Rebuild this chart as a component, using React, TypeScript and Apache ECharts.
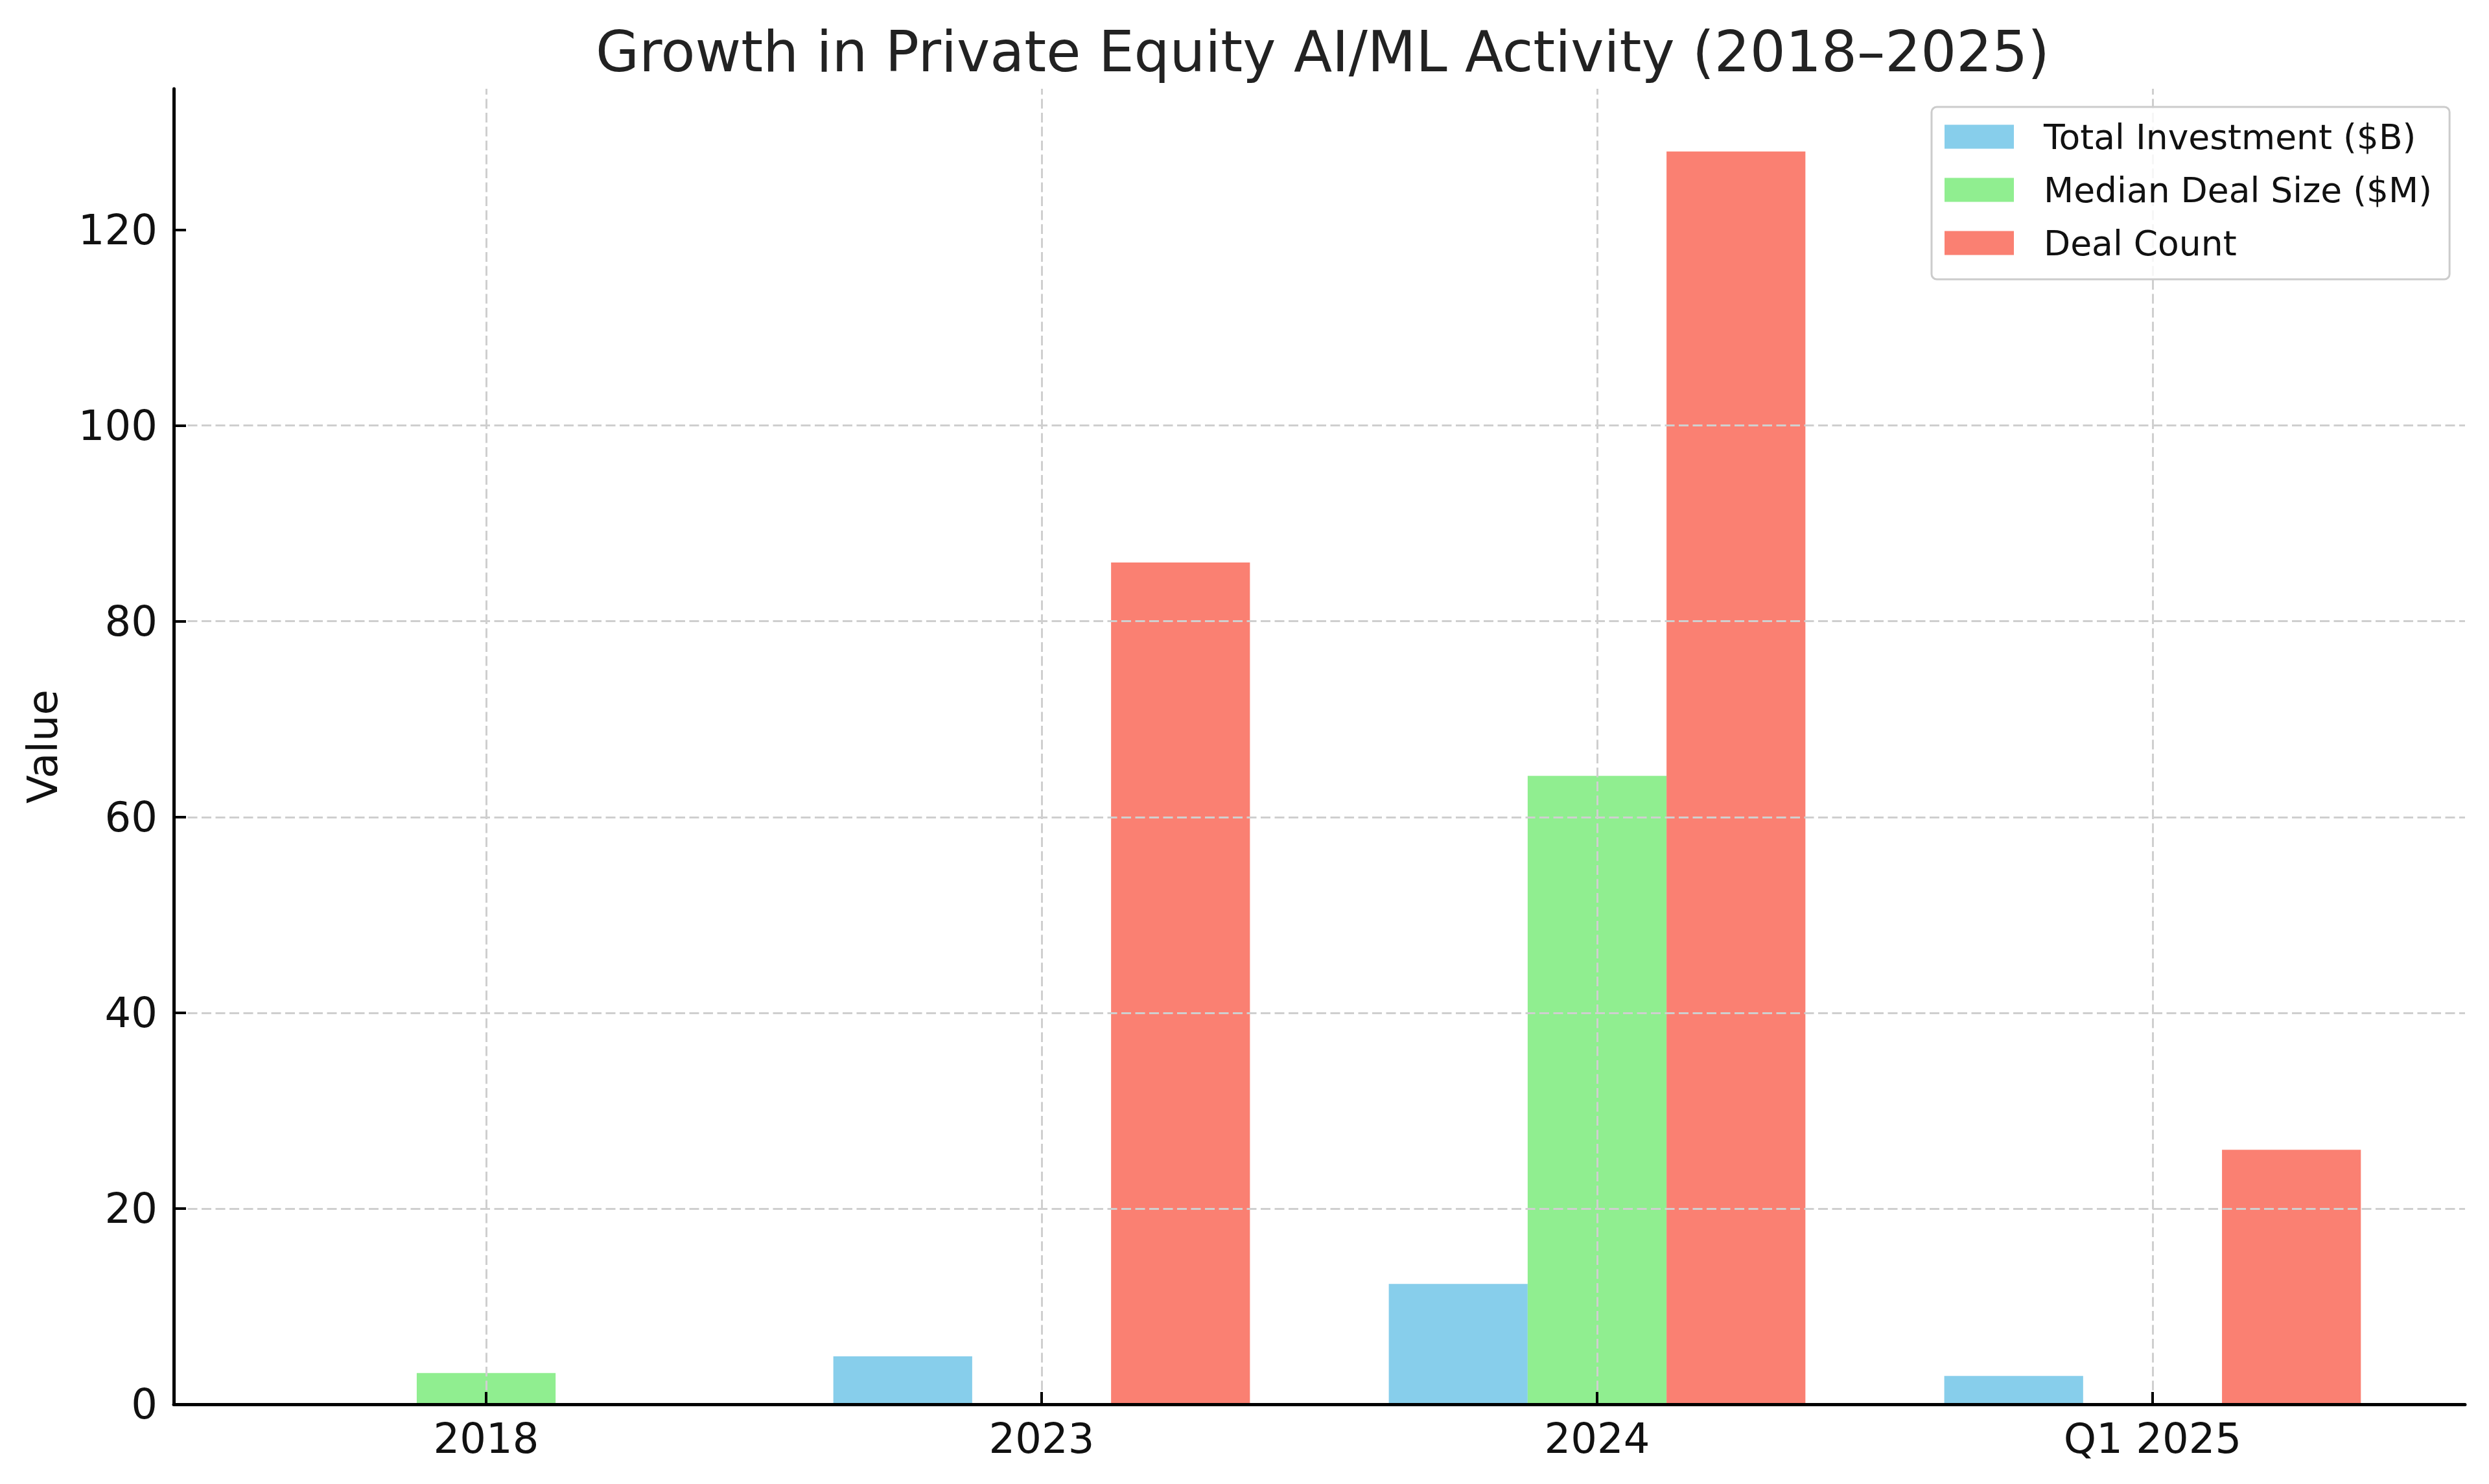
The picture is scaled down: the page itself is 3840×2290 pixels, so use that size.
import React, { useEffect, useRef } from "react";
import * as echarts from "echarts";

// ---- data ----
const categories = ["2018", "2023", "2024", "Q1 2025"];
const seriesNames = ["Total Investment ($B)", "Median Deal Size ($M)", "Deal Count"];
const totalInvestment = [0, 4.9, 12.3, 2.9];
const medianDealSize = [3.2, 0, 64.2, 0];
const dealCount = [0, 86, 128, 26];
const yTicks = [0, 20, 40, 60, 80, 100, 120];
const title = "Growth in Private Equity AI/ML Activity (2018–2025)";
const yAxisName = "Value";

// ---- styles ----
const colors = ["#87CEEB", "#90EE90", "#FA8072"];
const FONT = "DejaVu Sans";
const W = 3840;
const H = 2290;
const GRID = { left: 268, right: 37, top: 137, bottom: 123 };
const gridLine = { color: "#cfcfcf", width: 3, type: [15, 6.5] as number[] };

export default function App() {
  const ref = useRef<HTMLDivElement>(null);

  useEffect(() => {
    if (!ref.current) return;
    const chart = echarts.init(ref.current, undefined, { renderer: "svg" });

    const allValues = [...totalInvestment, ...medianDealSize, ...dealCount];
    const yMax = Math.max(...allValues) * 1.05;
    const barW = 0.25;
    const xMin = -barW * 1.5 - (categories.length - 1 + 3 * barW) * 0.05;
    const xMax = categories.length - 1 - xMin;
    const catIdx = categories.map((_, i) => i);
    const seriesData = [totalInvestment, medianDealSize, dealCount];

    const series: any[] = seriesData.map((vals, s) => ({
      type: "bar",
      name: seriesNames[s],
      data: vals.map((v, i) => [i, v]),
      barWidth: "25%",
      barGap: "0%",
      itemStyle: { color: colors[s] },
      z: 2,
      ...(s === 1
        ? {
            markLine: {
              silent: true,
              symbol: "none",
              label: { show: false },
              lineStyle: { ...gridLine },
              emphasis: { disabled: true },
              data: catIdx.map((i) => ({ xAxis: i })),
              z: 3,
            },
          }
        : {}),
    }));

    chart.setOption({
      animation: false,
      backgroundColor: "#ffffff",
      textStyle: { fontFamily: FONT },
      title: {
        text: title,
        left: GRID.left + (W - GRID.left - GRID.right) / 2,
        top: 31,
        textAlign: "center",
        textStyle: { fontFamily: FONT, fontSize: 86.5, fontWeight: "normal", color: "#222222" },
      },
      legend: {
        data: seriesNames,
        orient: "vertical",
        left: 2980,
        top: 165,
        itemWidth: 107,
        itemHeight: 37,
        itemGap: 28,
        icon: "rect",
        padding: [19, 27, 29, 20],
        borderColor: "#cccccc",
        borderWidth: 3,
        borderRadius: 8,
        backgroundColor: "rgba(255,255,255,0.8)",
        textStyle: { fontFamily: FONT, fontSize: 53.5, color: "#111111", padding: [0, 0, 0, 41] },
        z: 10,
      },
      grid: { ...GRID, containLabel: false },
      xAxis: {
        type: "value",
        min: xMin,
        max: xMax,
        z: 4,
        axisLine: { show: true, onZero: false, lineStyle: { color: "#000", width: 5 } },
        axisTick: { show: true, inside: true, length: 19, customValues: catIdx, lineStyle: { color: "#000", width: 4 } },
        axisLabel: {
          customValues: catIdx,
          formatter: (v: number) => categories[Math.round(v)] ?? "",
          fontFamily: FONT,
          fontSize: 64,
          color: "#111111",
          margin: 21,
        },
        splitLine: { show: false },
      },
      yAxis: {
        type: "value",
        min: 0,
        max: yMax,
        interval: 20,
        z: 4,
        name: yAxisName,
        nameLocation: "middle",
        nameGap: 170,
        nameTextStyle: { fontFamily: FONT, fontSize: 64, color: "#111111" },
        axisLine: { show: true, onZero: false, lineStyle: { color: "#000", width: 5 } },
        axisTick: { show: true, inside: true, length: 19, customValues: yTicks, lineStyle: { color: "#000", width: 4 } },
        axisLabel: {
          customValues: yTicks,
          fontFamily: FONT,
          fontSize: 64,
          color: "#111111",
          margin: 25,
        },
        splitLine: { show: true, showMinLine: false, showMaxLine: false, lineStyle: { ...gridLine } },
      },
      series,
    });

    return () => chart.dispose();
  }, []);

  return (
    <div
      ref={ref}
      style={{ position: "fixed", left: 0, top: 0, width: W + "px", height: H + "px", background: "#fff" }}
    />
  );
}
